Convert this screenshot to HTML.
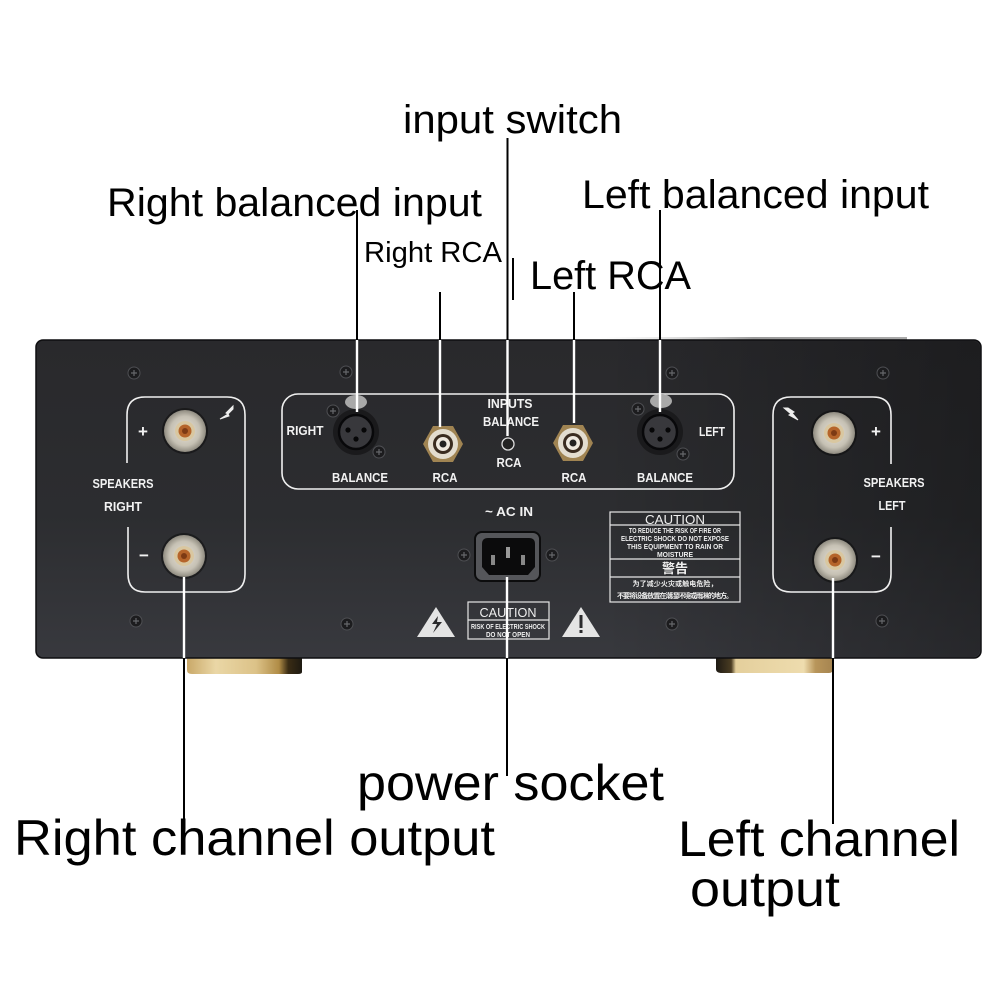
<!DOCTYPE html>
<html><head><meta charset="utf-8"><style>html,body{margin:0;padding:0;background:#fff;width:1000px;height:1000px;overflow:hidden}svg{display:block}</style></head>
<body>
<svg xmlns="http://www.w3.org/2000/svg" width="1000" height="1000" viewBox="0 0 1000 1000" font-family="'Liberation Sans','Noto Sans CJK SC',sans-serif">
<defs>
<linearGradient id="p" x1="0" y1="0" x2="0" y2="1"><stop offset="0" stop-color="#29292c"/><stop offset=".55" stop-color="#2c2d30"/><stop offset="1" stop-color="#38393e"/></linearGradient>
<linearGradient id="ov" x1="0" y1="0" x2="1" y2="0"><stop offset="0" stop-color="#000" stop-opacity="0"/><stop offset=".6" stop-color="#000" stop-opacity="0"/><stop offset="1" stop-color="#000" stop-opacity=".3"/></linearGradient>
<linearGradient id="g" x1="0" y1="0" x2="1" y2="0"><stop offset="0" stop-color="#c9a868"/><stop offset=".25" stop-color="#ead7a6"/><stop offset=".6" stop-color="#dcc288"/><stop offset=".8" stop-color="#b08c46"/><stop offset=".88" stop-color="#3a2c14"/><stop offset="1" stop-color="#1e1a12"/></linearGradient>
<linearGradient id="g2" x1="0" y1="0" x2="1" y2="0"><stop offset="0" stop-color="#1e1a14"/><stop offset=".13" stop-color="#4a3c22"/><stop offset=".17" stop-color="#e4cf9c"/><stop offset=".75" stop-color="#eedcae"/><stop offset=".85" stop-color="#b8955a"/><stop offset="1" stop-color="#a58450"/></linearGradient>
<linearGradient id="top" x1="0" y1="0" x2="1" y2="0"><stop offset="0" stop-color="#ddd" stop-opacity="0"/><stop offset=".5" stop-color="#999"/><stop offset="1" stop-color="#aaa"/></linearGradient>
<radialGradient id="s"><stop offset="0" stop-color="#e8e3d8"/><stop offset=".7" stop-color="#c6c1b4"/><stop offset="1" stop-color="#8f8b80"/></radialGradient>
<g id="post"><circle r="23" fill="#0c0c0d" opacity=".55"/><circle r="21" fill="url(#s)"/><circle r="10" fill="#d9c7a0"/><circle r="6.5" fill="#b5642a"/><circle r="3" fill="#7d3a14"/></g>
<g id="sc"><circle r="6" fill="#1c1c1e" stroke="#4e4f53" stroke-width="1"/><path d="M-3 0H3M0-3V3" stroke="#66676b" stroke-width="1.2"/></g>
<g id="xlr"><circle r="23" fill="#1a1a1c"/><circle r="17" fill="#38383c" stroke="#08080a" stroke-width="2.5"/><circle cx="-8" cy="-2" r="2.6" fill="#060607"/><circle cx="8" cy="-2" r="2.6" fill="#060607"/><circle cx="0" cy="7" r="2.6" fill="#060607"/></g>
<g id="rca"><polygon points="-20,0 -10,-18 10,-18 20,0 10,18 -10,18" fill="#a08452"/><circle r="15" fill="#e3ddcf"/><circle r="10" fill="#3a2c20"/><circle r="7" fill="#eee9df"/><circle r="3.5" fill="#222"/></g>
</defs>
<rect width="1000" height="1000" fill="#fff"/>
<rect x="600" y="337" width="307" height="3" fill="url(#top)"/>
<path d="M187 655H302V672Q302 674 298 674H192Q187 674 187 670Z" fill="url(#g)"/>
<path d="M716 655H833V669Q833 673 829 673H722Q716 673 716 669Z" fill="url(#g2)"/>
<rect x="36" y="340" width="945" height="318" rx="7" fill="url(#p)" stroke="#0e0e10" stroke-width="1.5"/>
<rect x="37" y="341" width="943" height="316" rx="7" fill="url(#ov)"/>

<use href="#sc" x="134" y="373"/><use href="#sc" x="346" y="372"/><use href="#sc" x="672" y="373"/><use href="#sc" x="883" y="373"/>
<use href="#sc" x="136" y="621"/><use href="#sc" x="347" y="624"/><use href="#sc" x="672" y="624"/><use href="#sc" x="882" y="621"/>

<g fill="none" stroke="#f0f0f0" stroke-width="1.6">
<path d="M127 463V415Q127 397 145 397H227Q245 397 245 415V574Q245 592 227 592H145Q128 592 128 574V527"/>
<path d="M891 464V415Q891 397 873 397H791Q773 397 773 415V574Q773 592 791 592H873Q891 592 891 574V527"/>
<rect x="282" y="394" width="452" height="95" rx="16"/>
</g>
<use href="#post" x="185" y="431"/><use href="#post" x="184" y="556"/>
<use href="#post" x="834" y="433"/><use href="#post" x="835" y="560"/>
<use href="#xlr" x="356" y="432"/><use href="#xlr" x="660" y="432"/>
<ellipse cx="356" cy="402" rx="11" ry="7" fill="#a9a9a9"/><ellipse cx="661" cy="401" rx="11" ry="7" fill="#a9a9a9"/>
<use href="#sc" x="333" y="411"/><use href="#sc" x="379" y="452"/><use href="#sc" x="638" y="409"/><use href="#sc" x="683" y="454"/>
<use href="#rca" x="443" y="444"/><use href="#rca" x="573" y="443"/>
<circle cx="508" cy="444" r="6" fill="#222" stroke="#ddd" stroke-width="1.3"/>

<g fill="#f2f2f2" font-weight="bold" font-size="12.5" text-anchor="middle">
<text x="123" y="488" textLength="61" lengthAdjust="spacingAndGlyphs">SPEAKERS</text>
<text x="123" y="511" textLength="38" lengthAdjust="spacingAndGlyphs">RIGHT</text>
<text x="894" y="487" textLength="61" lengthAdjust="spacingAndGlyphs">SPEAKERS</text>
<text x="892" y="510" textLength="27" lengthAdjust="spacingAndGlyphs">LEFT</text>
<text x="305" y="435" textLength="37" lengthAdjust="spacingAndGlyphs">RIGHT</text>
<text x="712" y="436" textLength="26" lengthAdjust="spacingAndGlyphs">LEFT</text>
<text x="360" y="482" textLength="56" lengthAdjust="spacingAndGlyphs">BALANCE</text>
<text x="445" y="482" textLength="25" lengthAdjust="spacingAndGlyphs">RCA</text>
<text x="574" y="482" textLength="25" lengthAdjust="spacingAndGlyphs">RCA</text>
<text x="665" y="482" textLength="56" lengthAdjust="spacingAndGlyphs">BALANCE</text>
<text x="510" y="408" textLength="45" lengthAdjust="spacingAndGlyphs">INPUTS</text>
<text x="511" y="426" textLength="56" lengthAdjust="spacingAndGlyphs">BALANCE</text>
<text x="509" y="467" textLength="25" lengthAdjust="spacingAndGlyphs">RCA</text>
<text x="509" y="516" textLength="48" lengthAdjust="spacingAndGlyphs">~ AC IN</text>
</g>
<g fill="#f2f2f2" font-weight="bold" font-size="17" text-anchor="middle">
<text x="143" y="437">+</text><text x="876" y="437">+</text><text x="144" y="561">−</text><text x="876" y="562">−</text>
</g>
<path d="M233 406L226 413L228 414L220 419L229 416L228 414L233 409Z" fill="#eee" stroke="#eee"/>
<path d="M784 408L791 414L789 415L798 420L792 413L794 412L788 408Z" fill="#eee" stroke="#eee"/>

<!-- AC socket -->
<rect x="475" y="532" width="65" height="49" rx="7" fill="#55565a" stroke="#0c0c0d" stroke-width="2"/>
<path d="M482 544Q482 538 488 538H529Q535 538 535 544V567L528 575H489L482 567Z" fill="#0b0b0c"/>
<rect x="491" y="555" width="4" height="10" fill="#888"/><rect x="506" y="547" width="4" height="11" fill="#999"/><rect x="521" y="555" width="4" height="10" fill="#888"/>
<use href="#sc" x="464" y="555"/><use href="#sc" x="552" y="555"/>

<!-- labels -->
<g fill="none" stroke="#e6e6e6" stroke-width="1.2">
<rect x="610" y="512" width="130" height="90"/>
<path d="M610 525H740M610 559H740M610 577H740"/>
<rect x="468" y="602" width="81" height="37"/>
<path d="M468 620H549"/>
</g>
<g fill="#eee" text-anchor="middle">
<text x="675" y="524" font-size="12.5" textLength="60" lengthAdjust="spacingAndGlyphs">CAUTION</text>
<g font-size="7" font-weight="bold">
<text x="675" y="533" textLength="92" lengthAdjust="spacingAndGlyphs">TO REDUCE THE RISK OF FIRE OR</text>
<text x="675" y="541" textLength="108" lengthAdjust="spacingAndGlyphs">ELECTRIC SHOCK DO NOT EXPOSE</text>
<text x="675" y="549" textLength="96" lengthAdjust="spacingAndGlyphs">THIS EQUIPMENT TO RAIN OR</text>
<text x="675" y="557" textLength="36" lengthAdjust="spacingAndGlyphs">MOISTURE</text>
<text x="675" y="586" textLength="85">为了减少火灾或触电危险，</text>
<text x="675" y="598" textLength="116">不要将设备放置在潮湿环境或雨淋的地方。</text>
<text x="508" y="629" textLength="74" lengthAdjust="spacingAndGlyphs">RISK OF ELECTRIC SHOCK</text>
<text x="508" y="637" textLength="44" lengthAdjust="spacingAndGlyphs">DO NOT OPEN</text>
</g>
<text x="675" y="573" font-size="13" font-weight="bold">警告</text>
<text x="508" y="617" font-size="13" textLength="57" lengthAdjust="spacingAndGlyphs">CAUTION</text>
</g>
<polygon points="436,607 455,637 417,637" fill="#e4e4e4"/>
<path d="M438 616L432 624H437L433 633L442 622H437Z" fill="#2a2a2c"/>
<polygon points="581,607 600,637 562,637" fill="#e4e4e4"/>
<rect x="579.5" y="615" width="3" height="13" fill="#2a2a2c"/><rect x="579.5" y="630" width="3" height="3" fill="#2a2a2c"/>

<!-- connector lines -->
<g stroke="#fff" stroke-width="2.4">
<path d="M357 340V412M440 340V427M507.5 340V436M574 340V423M660 340V412M507 577V658M184 577V658M833 578V658"/>
</g>
<g stroke="#000" stroke-width="2">
<path d="M357 210V340M440 292V340M507.5 138V340M574 292V340M660 210V340M513 258V300M507 658V776M184 658V822M833 658V824" fill="none"/>
</g>

<g fill="#000">
<text x="403" y="133" font-size="40" textLength="219" lengthAdjust="spacingAndGlyphs">input switch</text>
<text x="107" y="216" font-size="40" textLength="375" lengthAdjust="spacingAndGlyphs">Right balanced input</text>
<text x="582" y="208" font-size="40" textLength="347" lengthAdjust="spacingAndGlyphs">Left balanced input</text>
<text x="364" y="262" font-size="29" textLength="138" lengthAdjust="spacingAndGlyphs">Right RCA</text>
<text x="530" y="289" font-size="40" textLength="161" lengthAdjust="spacingAndGlyphs">Left RCA</text>
<text x="357" y="800" font-size="50" textLength="307" lengthAdjust="spacingAndGlyphs">power socket</text>
<text x="14" y="855" font-size="50" textLength="481" lengthAdjust="spacingAndGlyphs">Right channel output</text>
<text x="678" y="856" font-size="50" textLength="282" lengthAdjust="spacingAndGlyphs">Left channel</text>
<text x="690" y="906" font-size="50" textLength="150" lengthAdjust="spacingAndGlyphs">output</text>
</g>
</svg>
</body></html>
